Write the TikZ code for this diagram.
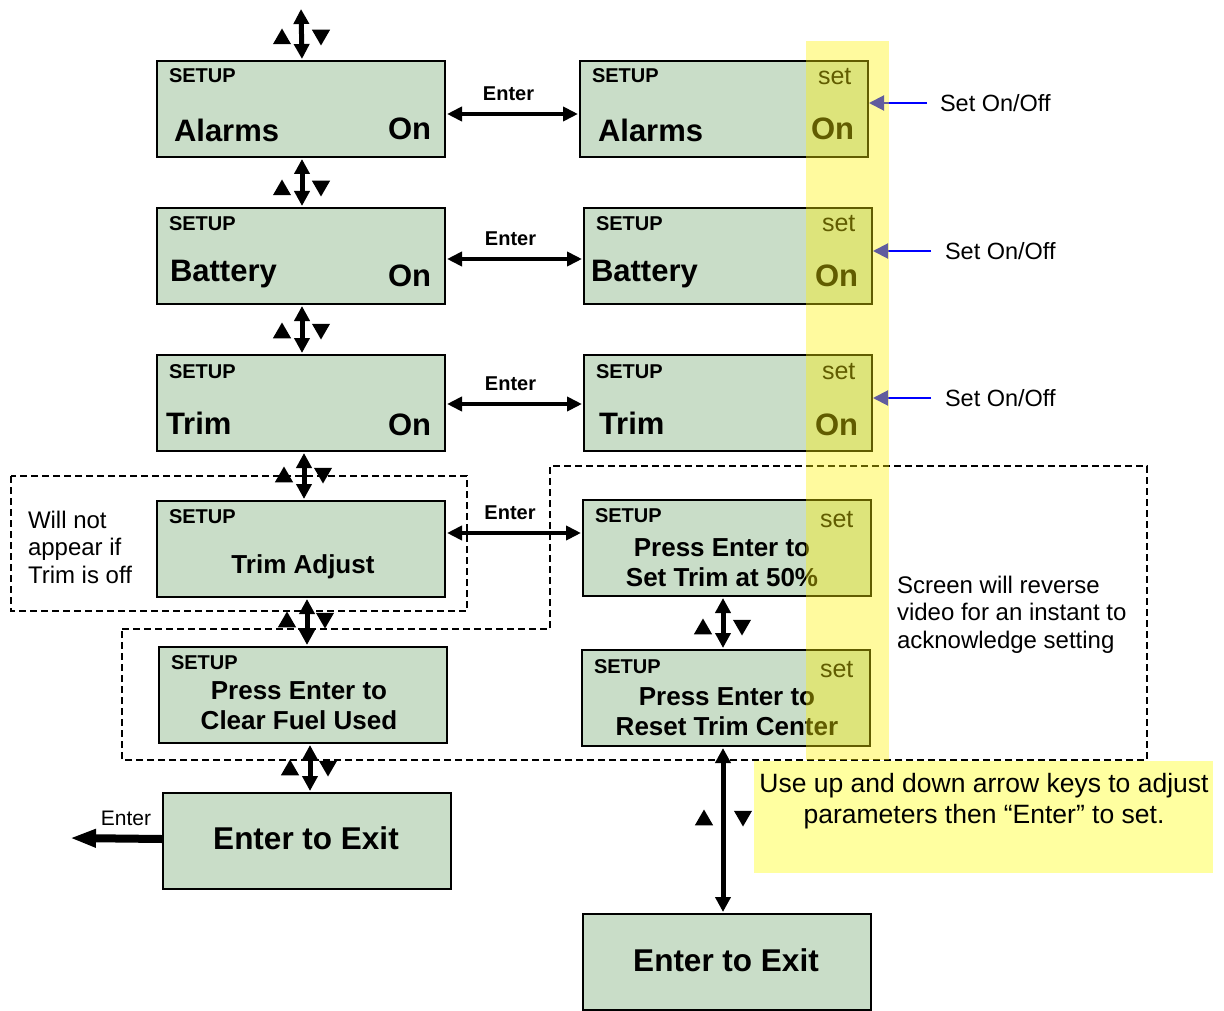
\documentclass[tikz,border=0pt]{standalone}
\usepackage{fontspec}
\setmainfont{Liberation Sans}
\usetikzlibrary{arrows.meta,shapes.geometric}
\definecolor{lcdgreen}{RGB}{201,221,200}
\definecolor{notefill}{RGB}{255,255,160}
\begin{document}
\begin{tikzpicture}[x=1pt,y=-1pt,
  lcd/.style={draw=black, line width=2pt, fill=lcdgreen, minimum width=288pt, minimum height=96pt, anchor=north west, inner sep=0pt},
  txt/.style={inner sep=0pt, outer sep=0pt},
  setupt/.style={txt, anchor=base west, font=\fontsize{20}{24}\selectfont\bfseries},
  bigt/.style={txt, anchor=base west, font=\fontsize{31}{36}\selectfont\bfseries},
  sett/.style={txt, anchor=base west, font=\fontsize{25}{30}\selectfont},
  midt/.style={txt, anchor=north, align=center, font=\fontsize{26}{30.5}\selectfont\bfseries},
  exitt/.style={txt, anchor=center, font=\fontsize{31.5}{36}\selectfont\bfseries},
  elbl/.style={txt, font=\fontsize{20}{24}\selectfont\bfseries},
  plain/.style={txt, font=\fontsize{23.5}{28}\selectfont},
  varrow/.style={line width=5pt, {Triangle[width=15pt,length=15pt]}-{Triangle[width=15pt,length=15pt]}, shorten <=1pt, shorten >=1pt},
  harrow/.style={line width=4pt, {Triangle[width=14pt,length=15pt]}-{Triangle[width=14pt,length=15pt]}, shorten <=1pt, shorten >=1pt},
  exitarrow/.style={line width=8pt, -{Triangle[width=17pt,length=26pt]}},
  bluearrow/.style={line width=2pt, blue, -{Triangle[width=15pt,length=15pt]}},
  dashedbox/.style={line width=1.5pt, dash pattern=on 7pt off 4pt},
  uptri/.style={regular polygon, regular polygon sides=3, fill=black, inner sep=0pt, minimum size=21pt, draw=none},
  dntri/.style={uptri, shape border rotate=180}
]
\useasboundingbox (0,0) rectangle (1224,1011);

% ---------------- left column boxes
\node[lcd] (b1) at (156,60) {};
\node[lcd] (b2) at (156,207) {};
\node[lcd] (b3) at (156,354) {};
\node[lcd] (b4) at (156,500) {};
\node[lcd] (b5) at (158,646) {};
\node[lcd] (b6) at (162,792) {};

% ---------------- right column boxes
\node[lcd] (r1) at (579,60) {};
\node[lcd] (r2) at (583,207) {};
\node[lcd] (r3) at (583,354) {};
\node[lcd] (r4) at (582,499) {};
\node[lcd] (r5) at (581,649) {};
\node[lcd] (r6) at (582,913) {};

% ---------------- texts left
\node[setupt] (b1s) at (169,83) {SETUP};
\node[bigt] (b1t) at (174,142) {Alarms};
\node[bigt] (b1o) at (388,140) {On};
\node[setupt] (b2s) at (169,231) {SETUP};
\node[bigt] (b2t) at (170,281) {Battery};
\node[bigt] (b2o) at (388,287) {On};
\node[setupt] (b3s) at (169,378) {SETUP};
\node[bigt] (b3t) at (166,434) {Trim};
\node[bigt] (b3o) at (388,435) {On};
\node[setupt] (b4s) at (169,523) {SETUP};
\node[txt, anchor=base, font=\fontsize{26}{30.5}\selectfont\bfseries] (b4t) at (303,573) {Trim Adjust};
\node[setupt] (b5s) at (171,669) {SETUP};
\node[midt] (b5t) at (299,681.5) {Press Enter to\\Clear Fuel Used};
\node[exitt] (b6t) at (306,838) {Enter to Exit};

% ---------------- texts right
\node[setupt] (r1s) at (592,83) {SETUP};
\node[bigt] (r1t) at (598,142) {Alarms};
\node[sett] (r1e) at (818,85) {set};
\node[bigt] (r1o) at (811,140) {On};
\node[setupt] (r2s) at (596,231) {SETUP};
\node[bigt] (r2t) at (591,281) {Battery};
\node[sett] (r2e) at (822,232) {set};
\node[bigt] (r2o) at (815,287) {On};
\node[setupt] (r3s) at (596,378) {SETUP};
\node[bigt] (r3t) at (599,434) {Trim};
\node[sett] (r3e) at (822,379) {set};
\node[bigt] (r3o) at (815,435) {On};
\node[setupt] (r4s) at (595,522) {SETUP};
\node[sett] (r4e) at (820,527) {set};
\node[midt] (r4t) at (722,538.5) {Press Enter to\\Set Trim at 50\%};
\node[setupt] (r5s) at (594,673) {SETUP};
\node[sett] (r5e) at (820,677) {set};
\node[midt] (r5t) at (727,687.5) {Press Enter to\\Reset Trim Center};
\node[exitt] (r6t) at (726,960) {Enter to Exit};

% ---------------- dashed groups
\draw[dashedbox] (11,476) rectangle (467,611);
\draw[dashedbox] (122,629) -- (550,629) -- (550,466) -- (1147,466) -- (1147,760) -- (122,760) -- cycle;

% ---------------- vertical arrows
\coordinate (vtop) at (301,8);
\draw[varrow] (vtop) -- ([xshift=1pt]b1.north);
\draw[varrow] ([xshift=1pt]b1.south) -- ([xshift=1pt]b2.north);
\draw[varrow] ([xshift=1pt]b2.south) -- ([xshift=1pt]b3.north);
\draw[varrow] ([xshift=3pt]b3.south) -- ([xshift=3pt]b4.north);
\draw[varrow] ([xshift=6pt]b4.south) -- ([xshift=4pt]b5.north);
\draw[varrow] ([xshift=7pt]b5.south) -- ([xshift=3pt]b6.north);
\draw[varrow] ([xshift=-4pt]r4.south) -- ([xshift=-3pt]r5.north);
\draw[varrow] ([xshift=-3pt]r5.south) -- ([xshift=-4pt]r6.north);

% ---------------- up/down key triangles
\node[uptri] (u1) at (282,39) {};  \node[dntri] (d1) at (321,35) {};
\node[uptri] (u2) at (282,190) {}; \node[dntri] (d2) at (321,186) {};
\node[uptri] (u3) at (282,333) {}; \node[dntri] (d3) at (321,329) {};
\node[uptri] (u4) at (284,477) {}; \node[dntri] (d4) at (323,473) {};
\node[uptri] (u5) at (287,622) {}; \node[dntri] (d5) at (325,618) {};
\node[uptri] (u6) at (290,770) {}; \node[dntri] (d6) at (328,766) {};
\node[uptri] (u7) at (703,629) {}; \node[dntri] (d7) at (742,625) {};
\node[uptri] (u8) at (704,820) {}; \node[dntri] (d8) at (743,816) {};

% ---------------- Enter arrows
\draw[harrow] ([yshift=-5pt]b1.east) -- node[elbl, midway, yshift=20pt, xshift=-4pt] (e1) {Enter} ([yshift=-5pt]r1.west);
\draw[harrow] ([yshift=-3pt]b2.east) -- node[elbl, midway, yshift=20pt, xshift=-4pt] (e2) {Enter} ([yshift=-3pt]r2.west);
\draw[harrow] ([yshift=-1pt]b3.east) -- node[elbl, midway, yshift=20pt, xshift=-4pt] (e3) {Enter} ([yshift=-1pt]r3.west);
\draw[harrow] ([yshift=16pt]b4.east) -- node[elbl, midway, yshift=20pt, xshift=-4pt] (e4) {Enter} ([yshift=15pt]r4.west);

\coordinate (exitend) at (70,838);
\draw[exitarrow] ([yshift=2pt]b6.west) -- (exitend);
\node[txt, font=\fontsize{21}{25}\selectfont] (e5) at (126,818) {Enter};

% ---------------- blue arrows
\coordinate (s1) at (927,103);
\coordinate (s2) at (931,251);
\coordinate (s3) at (931,398);
\draw[bluearrow] (s1) -- (s1 -| r1.east);
\draw[bluearrow] (s2) -- (s2 -| r2.east);
\draw[bluearrow] (s3) -- (s3 -| r3.east);
\node[plain, anchor=west] (n1) at (940,103) {Set On/Off};
\node[plain, anchor=west] (n2) at (945,251) {Set On/Off};
\node[plain, anchor=west] (n3) at (945,398) {Set On/Off};

% ---------------- side notes
\node[txt, anchor=north west, align=left, font=\fontsize{24}{27.5}\selectfont] (wn) at (28,511) {Will not\\appear if\\Trim is off};
\node[txt, anchor=north west, align=left, font=\fontsize{24}{27.5}\selectfont] (sc) at (897,576) {Screen will reverse\\video for an instant to\\acknowledge setting};

% ---------------- yellow highlight strip
\fill[yellow, opacity=0.38] (806,41) rectangle (889,760);

% ---------------- yellow note
\fill[notefill] (754,761) rectangle (1213,873);
\node[txt, anchor=north, align=center, font=\fontsize{26.5}{31}\selectfont] (note) at (984,773) {Use up and down arrow keys to adjust\\parameters then “Enter” to set.};
\end{tikzpicture}
\end{document}
